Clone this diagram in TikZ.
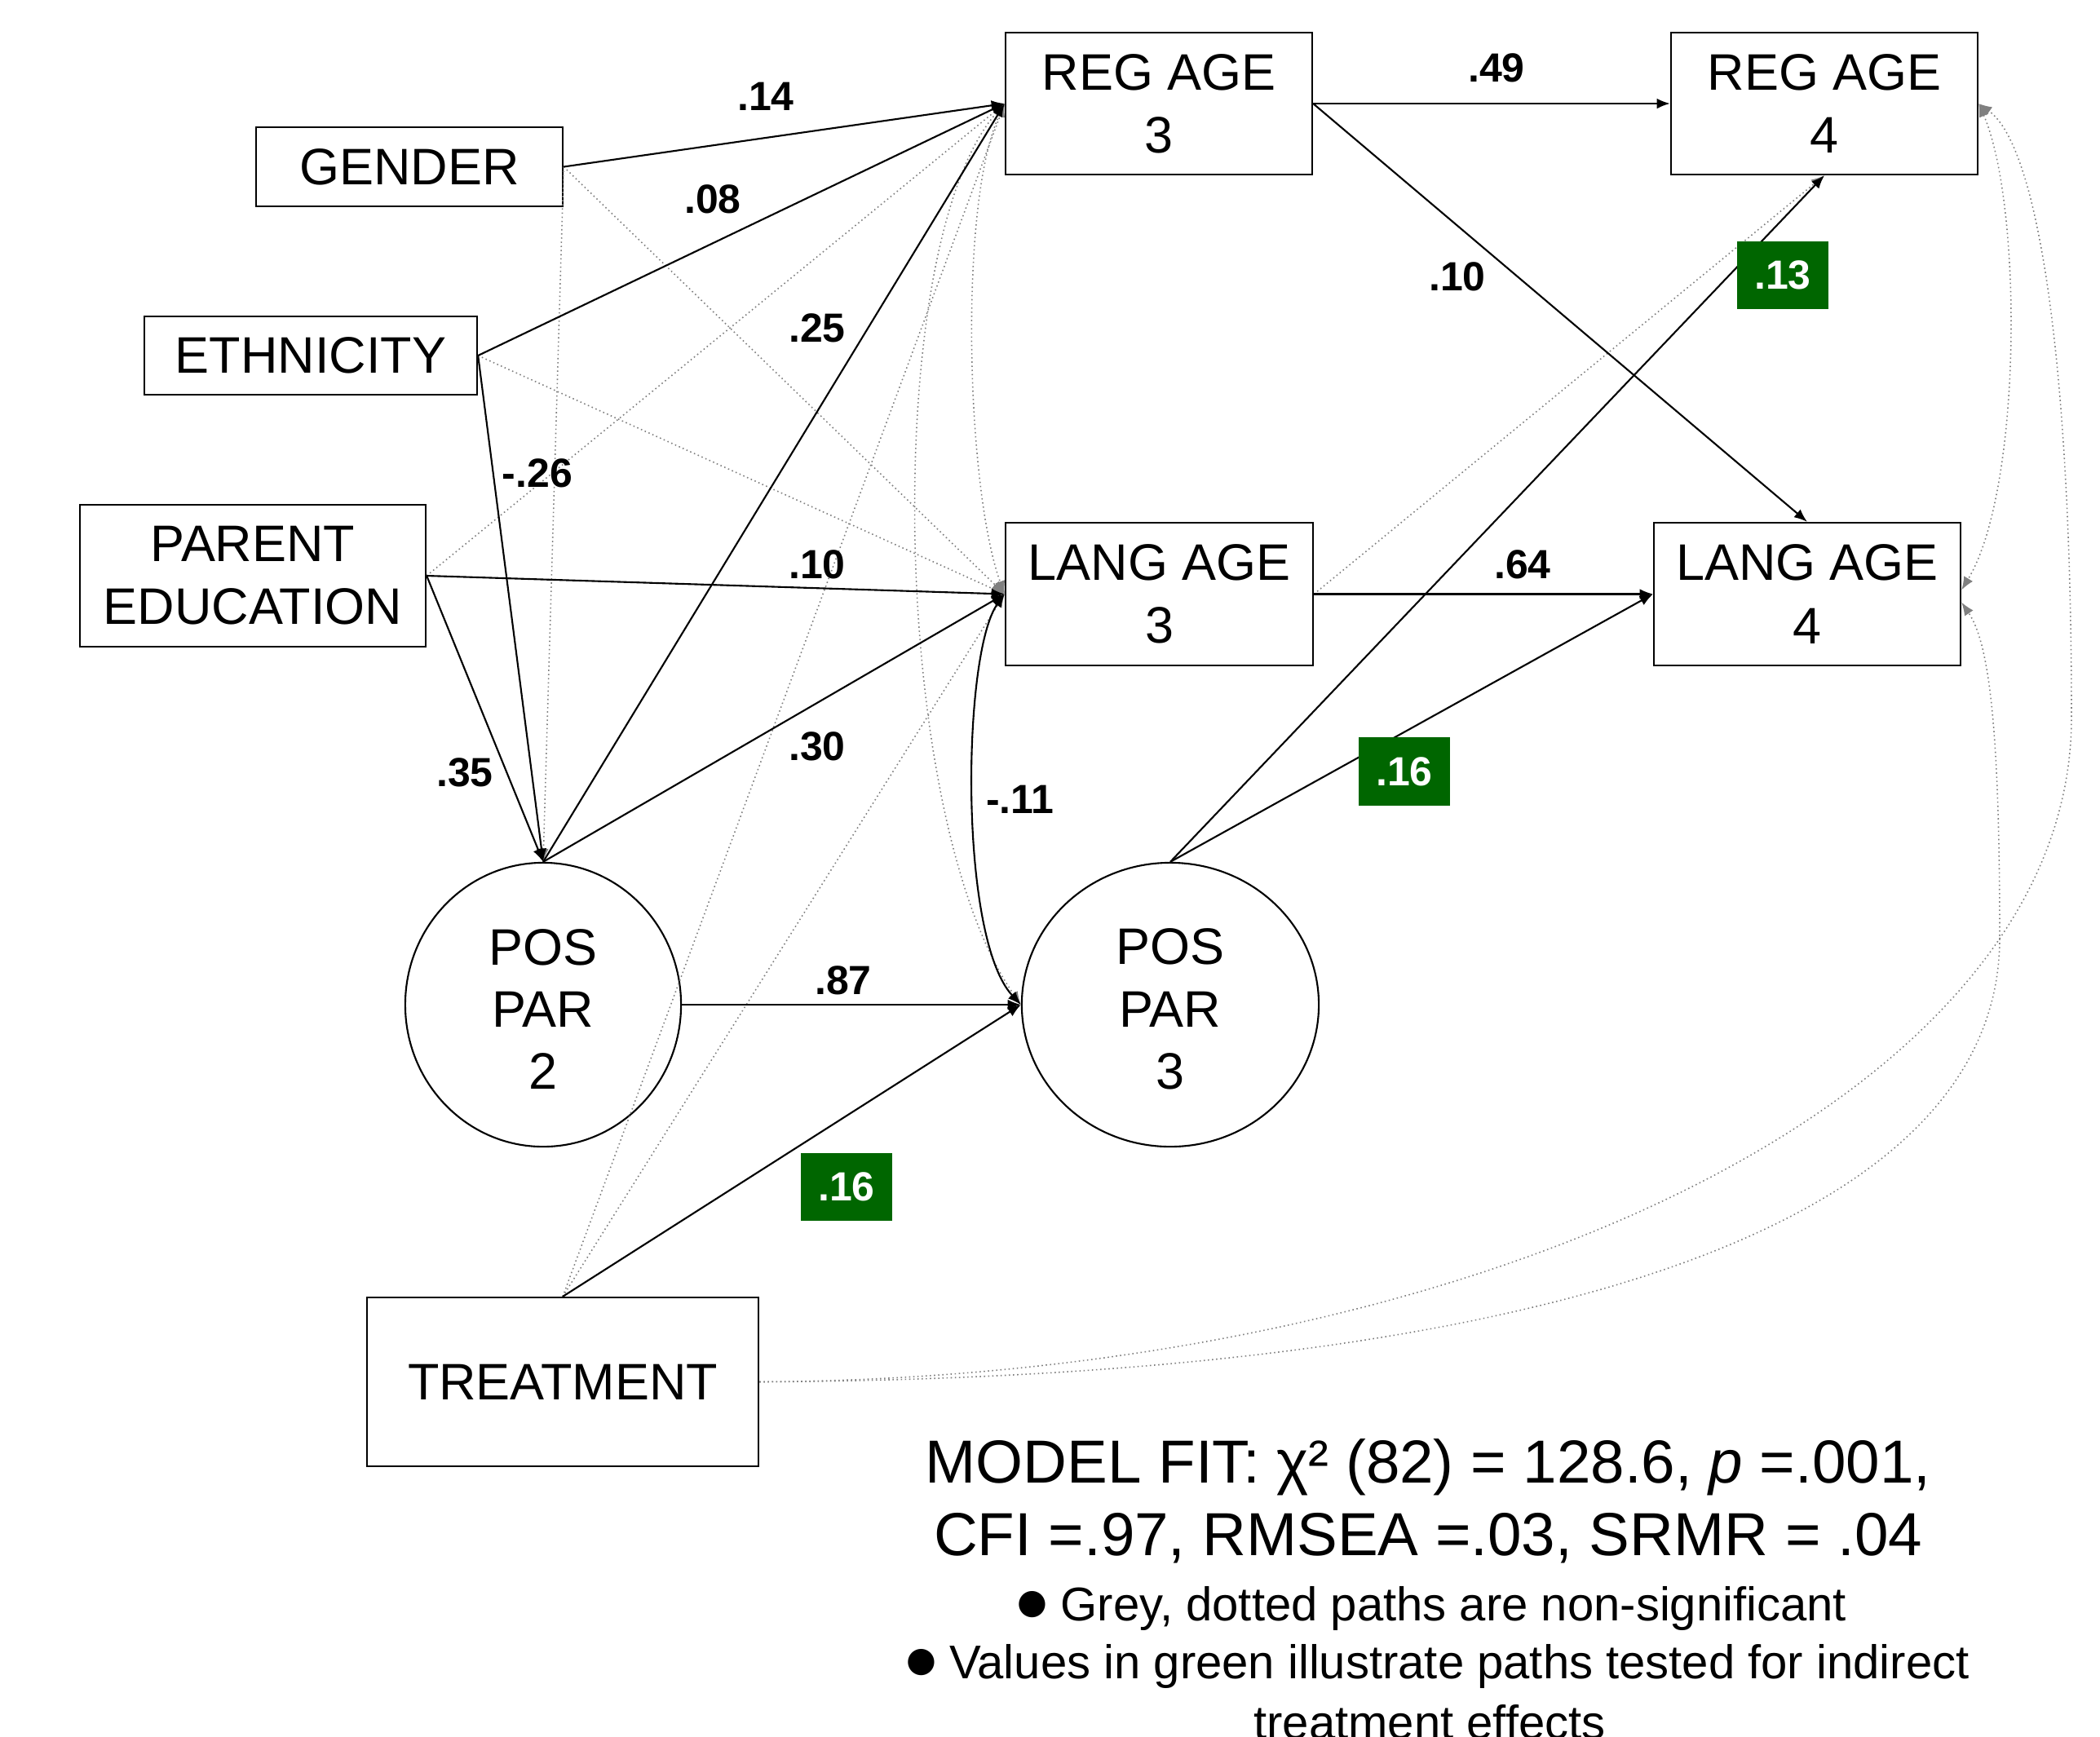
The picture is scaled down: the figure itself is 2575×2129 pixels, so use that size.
\documentclass[tikz,border=0pt]{standalone}
\usepackage{fontspec}
\setmainfont{Liberation Sans}
\newfontfamily\dejavu{DejaVu Sans}
\usetikzlibrary{shapes.geometric,arrows.meta,calc}
\definecolor{pathgreen}{RGB}{0,102,0}
\definecolor{nsgray}{RGB}{128,128,128}
\newcommand{\mybullet}{\raisebox{0.14em}{\dejavu\fontsize{12}{14}\selectfont●}}
\tikzset{
  varbox/.style={draw, line width=0.6pt, inner sep=0pt, align=center, font=\fontsize{17.9}{21.9}\selectfont},
  latent/.style={draw, ellipse, line width=0.6pt, inner sep=0pt, align=center, font=\fontsize{17.9}{21.7}\selectfont},
  tipp/.tip={Latex[length=4.6pt,width=3.6pt]},
  sig/.style={line width=0.6pt, -tipp},
  sigboth/.style={line width=0.6pt, tipp-tipp},
  ns/.style={draw=nsgray, fill=none, line width=0.45pt, densely dotted, -tipp},
  nsboth/.style={draw=nsgray, line width=0.45pt, densely dotted, tipp-tipp},
  coef/.style={font=\fontsize{14.2}{16}\selectfont\bfseries, inner sep=0pt},
  greencoef/.style={fill=pathgreen, text=white, font=\fontsize{14.2}{16}\selectfont\bfseries, minimum width=1.11cm, minimum height=0.83cm, inner sep=0pt},
  fitbig/.style={font=\fontsize{21.2}{25}\selectfont, anchor=base, inner sep=0pt},
  fitsmall/.style={font=\fontsize{16.5}{19}\selectfont, anchor=base, inner sep=0pt},
}
\begin{document}
\begin{tikzpicture}[x=0.01cm,y=-0.01cm]
\useasboundingbox (0,0) rectangle (2575,2129);
% variables
\node[varbox, minimum width=3.76cm, minimum height=0.97cm] (gender) at (502,204.5) {GENDER};
\node[varbox, minimum width=4.08cm, minimum height=0.96cm] (eth) at (381,436) {ETHNICITY};
\node[varbox, minimum width=4.24cm, minimum height=1.74cm] (pe) at (310,706) {PARENT\\EDUCATION};
\node[varbox, minimum width=3.76cm, minimum height=1.74cm] (reg3) at (1421,127) {REG AGE\\3};
\node[varbox, minimum width=3.76cm, minimum height=1.74cm] (reg4) at (2237,127) {REG AGE\\4};
\node[varbox, minimum width=3.77cm, minimum height=1.75cm] (lang3) at (1421.5,728.5) {LANG AGE\\3};
\node[varbox, minimum width=3.76cm, minimum height=1.75cm] (lang4) at (2216,728.5) {LANG AGE\\4};
\node[latent, minimum width=3.38cm, minimum height=3.48cm] (pp2) at (666,1232) {\rule{0pt}{15.6pt}POS\\PAR\\2};
\node[latent, minimum width=3.64cm, minimum height=3.48cm] (pp3) at (1435,1232) {\rule{0pt}{15.6pt}POS\\PAR\\3};
\node[varbox, minimum width=4.8cm, minimum height=2.07cm] (treat) at (690,1694.5) {TREATMENT};

% non-significant paths
\draw[ns] (gender.east) -- (lang3.west);
\draw[ns] (gender.east) -- (pp2.north);
\draw[ns] (eth.east) -- (lang3.west);
\draw[ns] (pe.east) -- (reg3.west);
\draw[ns] (treat.north) -- (reg3.west);
\draw[ns] (treat.north) -- (lang3.west);
\draw[ns] (lang3.east) -- (reg4.south);
\draw[nsboth] (reg3.west) .. controls (1175,250) and (1185,600) .. (lang3.west);
\draw[nsboth] (reg3.west) .. controls (1080,300) and (1090,1000) .. (pp3.west);
\draw[ns] (treat.east) .. controls (1800,1690) and (2540,1350) .. (2540,880) .. controls (2540,450) and (2500,180) .. (reg4.east);
\draw[ns] (treat.east) .. controls (1900,1690) and (2452,1500) .. (2452,1150) .. controls (2452,900) and (2440,790) .. ($(lang4.east)+(0,10)$);
\draw[nsboth] (reg4.east) .. controls (2480,250) and (2480,600) .. ($(lang4.east)+(0,-5)$);

% significant paths
\draw[sig] (gender.east) -- (reg3.west);
\draw[sig] (eth.east) -- (reg3.west);
\draw[sig] (eth.east) -- (pp2.north);
\draw[sig] (pe.east) -- (lang3.west);
\draw[sig] (pe.east) -- (pp2.north);
\draw[sig] (pp2.north) -- (reg3.west);
\draw[sig] (pp2.north) -- (lang3.west);
\draw[sig] (pp2.east) -- (pp3.west);
\draw[sig] (treat.north) -- (pp3.west);
\draw[sigboth] (lang3.west) .. controls (1180,800) and (1175,1150) .. (pp3.west);
\draw[sig] (reg3.east) -- (reg4.west);
\draw[sig] (reg3.east) -- (lang4.north);
\draw[sig] (lang3.east) -- (lang4.west);
\draw[sig] (pp3.north) -- (reg4.south);
\draw[sig] (pp3.north) -- (lang4.west);

% coefficients
\node[coef] (c14) at (939,118) {.14};
\node[coef] (c08) at (874,244) {.08};
\node[coef] (c25) at (1002,402) {.25};
\node[coef] (c26) at (659,580) {-.26};
\node[coef] (c10a) at (1002,692) {.10};
\node[coef] (c35) at (570,947) {.35};
\node[coef] (c30) at (1002,915) {.30};
\node[coef] (c87) at (1034,1202) {.87};
\node[coef] (c11) at (1251,980) {-.11};
\node[coef] (c49) at (1835,83) {.49};
\node[coef] (c10b) at (1787,339) {.10};
\node[coef] (c64) at (1867,692) {.64};
\node[greencoef] (g13) at (2186,337.5) {.13};
\node[greencoef] (g16a) at (1722,946) {.16};
\node[greencoef] (g16b) at (1038,1455) {.16};

% model fit
\node[fitbig] (fit1) at (1751,1818) {MODEL FIT: χ² (82) = 128.6, \textit{p} =.001,};
\node[fitbig] (fit2) at (1751,1907) {CFI =.97, RMSEA =.03, SRMR = .04};
\node[fitsmall] (fit3) at (1756,1987) {\mybullet{} Grey, dotted paths are non-significant};
\node[fitsmall] (fit4) at (1763,2058) {\mybullet{} Values in green illustrate paths tested for indirect};
\node[fitsmall] (fit5) at (1753,2132) {treatment effects};
\end{tikzpicture}
\end{document}
